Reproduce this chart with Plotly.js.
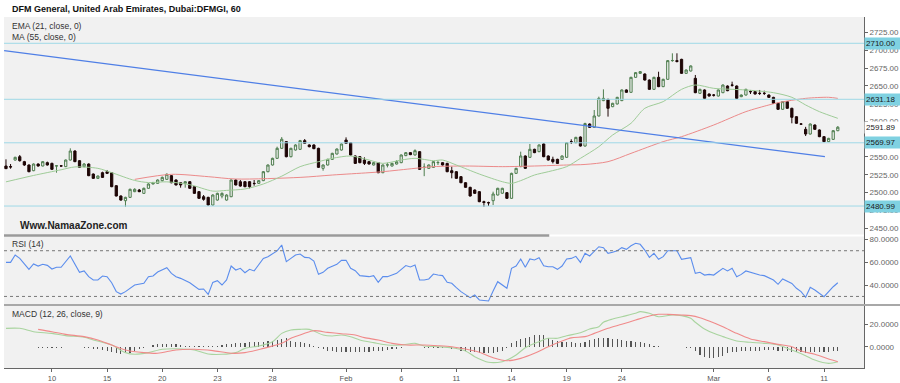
<!DOCTYPE html>
<html><head><meta charset="utf-8">
<script src="https://cdn.plot.ly/plotly-3.0.1.min.js"></script>
<style>html,body{margin:0;padding:0;background:#fff;}#chart{width:900px;height:383px;}</style>
</head><body><div id="chart"></div>
<script>
// ---- price bars (hourly, bar index 0..181) ----
const open = [
2537.3,2536.4,2545.7,2550.4,2543.4,2538.7,2530.7,2540.1,2537.3,2542.0,
2541.0,2537.3,2537.5,2536.4,2545.7,2558.4,2544.8,2536.4,2540.1,2526.0,
2519.9,2527.9,2529.3,2527.9,2509.6,2495.1,2488.5,2493.2,2501.2,2503.5,
2498.8,2505.9,2512.0,2512.9,2516.7,2518.5,2523.7,2517.6,2513.8,2512.9,
2515.2,2508.2,2501.2,2494.1,2493.2,2482.4,2489.4,2495.0,2489.4,2494.1,
2517.6,2515.2,2515.2,2515.2,2512.9,2512.9,2516.7,2529.3,2538.7,2548.1,
2562.2,2571.6,2550.4,2559.8,2560.8,2573.0,2566.9,2566.9,2562.2,2534.0,
2538.7,2546.7,2554.2,2559.8,2573.9,2570.1,2551.4,2550.4,2545.7,2543.4,
2538.7,2542.0,2527.9,2538.7,2537.3,2540.1,2542.0,2551.9,2556.1,2552.8,
2557.5,2535.4,2534.0,2535.4,2542.0,2542.0,2541.0,2530.7,2529.3,2522.3,
2513.8,2507.3,2503.5,2501.2,2487.1,2485.7,2488.5,2496.5,2499.0,2499.8,
2491.8,2527.0,2536.4,2551.4,2549.5,2560.8,2557.5,2568.3,2551.4,2546.7,
2546.7,2546.7,2549.5,2571.6,2570.1,2578.1,2565.4,2596.4,2591.7,2607.7,
2629.3,2631.1,2620.8,2624.6,2629.3,2644.3,2641.0,2662.1,2667.7,2666.8,
2658.3,2645.2,2662.1,2649.0,2659.3,2685.6,2685.6,2687.4,2667.7,2671.0,
2660.7,2639.6,2644.3,2638.6,2637.2,2635.8,2640.5,2649.9,2651.3,2649.9,
2634.9,2637.2,2642.0,2642.0,2639.6,2639.6,2637.2,2633.9,2625.5,2617.1,
2627.9,2618.5,2606.7,2596.4,2588.9,2582.3,2595.0,2588.0,2578.6,2571.6,
2574.8,2587.0];
const high = [
2546.7,2540.1,2550.4,2552.8,2544.5,2539.5,2541.0,2541.0,2544.0,2543.5,
2542.0,2538.7,2538.5,2546.5,2562.2,2559.5,2545.5,2541.5,2541.0,2526.8,
2524.0,2529.3,2531.7,2528.5,2510.2,2496.0,2494.0,2505.5,2506.0,2505.0,
2507.0,2513.0,2515.0,2518.5,2522.5,2527.0,2524.5,2518.5,2514.5,2516.0,
2516.0,2509.0,2502.0,2496.5,2494.0,2497.5,2499.8,2500.2,2497.5,2518.5,
2518.5,2517.6,2516.0,2516.0,2517.6,2517.6,2530.2,2539.5,2549.0,2564.5,
2578.0,2572.5,2563.0,2567.8,2574.0,2575.3,2567.8,2567.8,2563.0,2539.5,
2547.5,2556.0,2562.0,2569.0,2577.6,2571.0,2552.2,2551.2,2549.5,2544.2,
2542.8,2542.8,2539.5,2542.0,2541.8,2545.5,2553.6,2556.9,2556.9,2560.8,
2558.3,2541.0,2539.5,2544.2,2544.8,2542.8,2541.8,2536.4,2530.1,2523.1,
2514.6,2508.1,2504.3,2502.0,2488.5,2487.1,2501.2,2506.7,2506.7,2500.6,
2527.8,2534.8,2557.5,2552.2,2568.3,2561.6,2567.7,2569.1,2552.2,2550.4,
2547.5,2552.2,2570.9,2574.9,2578.4,2578.9,2598.2,2597.2,2616.1,2634.9,
2645.2,2631.9,2626.3,2634.7,2645.1,2645.1,2662.9,2669.5,2670.9,2667.6,
2659.1,2662.9,2670.0,2660.1,2686.4,2695.9,2695.9,2688.2,2673.2,2678.9,
2665.4,2646.0,2645.1,2639.4,2638.6,2645.1,2652.1,2650.7,2656.0,2650.7,
2638.0,2646.0,2644.3,2642.8,2644.3,2643.3,2638.0,2634.7,2626.3,2628.7,
2628.7,2619.3,2607.5,2597.8,2592.4,2597.2,2595.8,2588.8,2579.4,2577.0,
2587.8,2593.5];
const low = [
2533.0,2533.5,2544.8,2543.5,2537.5,2528.5,2530.0,2536.5,2536.8,2538.0,
2531.6,2527.9,2536.3,2535.8,2545.0,2542.8,2534.5,2535.5,2523.0,2519.0,
2519.0,2520.5,2526.0,2507.5,2494.5,2488.5,2480.0,2492.5,2500.5,2500.5,
2498.0,2505.5,2511.5,2512.5,2515.5,2518.0,2513.0,2510.0,2506.8,2506.8,
2505.0,2498.0,2491.0,2488.5,2481.5,2481.5,2488.5,2491.8,2488.5,2493.5,
2510.0,2508.2,2507.5,2505.9,2509.6,2512.0,2516.0,2528.5,2538.0,2547.5,
2561.5,2549.5,2549.5,2559.0,2560.0,2568.5,2563.5,2561.0,2534.5,2530.7,
2538.0,2546.0,2553.5,2559.0,2568.5,2552.0,2540.2,2541.2,2538.7,2539.4,
2538.0,2527.2,2527.2,2535.4,2536.6,2539.4,2541.3,2551.2,2552.6,2552.1,
2531.9,2523.0,2533.3,2534.7,2538.7,2538.0,2528.6,2520.0,2519.2,2513.1,
2506.6,2494.4,2498.1,2486.4,2480.0,2481.0,2482.4,2495.8,2498.3,2491.1,
2491.1,2526.3,2535.7,2533.3,2548.8,2555.4,2556.8,2549.7,2545.0,2540.9,
2540.3,2546.0,2548.8,2568.3,2569.4,2564.7,2564.7,2591.0,2591.0,2607.0,
2628.6,2606.8,2620.1,2623.9,2628.6,2640.3,2640.3,2661.4,2667.0,2657.6,
2644.5,2644.5,2648.3,2648.3,2658.6,2684.0,2683.0,2667.0,2667.0,2670.3,
2639.8,2638.9,2631.8,2635.1,2635.0,2635.1,2639.8,2642.6,2649.0,2631.8,
2634.2,2636.5,2638.6,2637.9,2637.2,2637.2,2633.2,2624.8,2616.4,2616.4,
2617.8,2597.4,2596.7,2595.0,2579.5,2581.6,2588.2,2577.9,2570.9,2570.9,
2574.1,2586.3];
const close = [
2533.6,2536.0,2549.5,2544.8,2538.7,2529.3,2540.1,2537.3,2543.4,2538.7,
2532.6,2537.6,2537.3,2545.7,2558.4,2543.4,2535.4,2540.1,2523.7,2519.9,
2523.2,2521.3,2527.0,2508.2,2495.1,2489.4,2493.2,2504.5,2504.5,2501.2,
2505.9,2512.0,2513.9,2517.6,2521.3,2525.6,2513.8,2510.6,2510.6,2515.2,
2505.9,2498.8,2491.8,2490.4,2482.4,2496.5,2498.8,2498.8,2496.5,2517.6,
2510.6,2509.1,2508.2,2508.2,2512.6,2516.7,2529.3,2538.7,2548.1,2562.2,
2575.0,2550.4,2562.2,2566.9,2573.0,2569.2,2564.5,2561.7,2535.4,2538.7,
2546.7,2555.1,2561.2,2568.3,2569.2,2552.8,2541.0,2542.0,2541.0,2540.1,
2542.0,2527.9,2538.7,2538.9,2541.0,2543.4,2552.8,2556.1,2553.3,2558.9,
2532.6,2535.6,2538.7,2543.4,2542.2,2538.7,2529.3,2527.9,2519.9,2513.8,
2507.3,2495.1,2498.8,2487.1,2486.0,2485.6,2497.9,2505.9,2505.9,2491.8,
2527.0,2534.0,2551.4,2534.0,2560.8,2556.1,2566.9,2550.4,2545.7,2543.4,
2541.0,2551.4,2570.1,2571.5,2577.6,2565.4,2597.0,2591.7,2607.7,2632.5,
2632.5,2618.5,2625.5,2633.9,2644.3,2641.0,2662.1,2668.7,2670.1,2658.3,
2645.2,2662.1,2649.0,2659.3,2685.6,2685.8,2684.5,2667.7,2672.4,2678.1,
2640.5,2645.2,2632.5,2635.8,2637.0,2644.3,2651.3,2643.3,2651.0,2632.5,
2637.2,2645.2,2641.9,2638.6,2639.4,2639.5,2633.9,2625.5,2617.1,2627.9,
2618.5,2605.8,2597.4,2596.3,2582.3,2596.4,2588.9,2578.6,2571.6,2576.2,
2587.0,2591.89];

// ---- x axis labels (bar index where each label sits) ----
const tickBars = [10,22,34,46,58,74,86,98,110,122,134,154,166,178];
const tickLabels = ['10','15','20','23','28','Feb','6','11','14','19','24','Mar','6','11'];

// ---- overlays ----
const emaX = [0,6,12,15,20,23,28,31,35,40,45,48,52,56,60,64,68,71,75,79,82,86,89,93,95,98,103,108,110,112,115,118,122,125,129,132,136,139,143,147,150,154,158,161,167,171,174,177,181];
const emaY = [2515,2524,2532,2536,2534,2528,2517,2514,2515,2511,2502,2503,2505,2512,2523,2536.4,2543.4,2548.1,2551.4,2545.7,2541.0,2545.7,2548.1,2544.8,2545.7,2538.7,2526.0,2515.2,2512.9,2516.7,2524.6,2529.3,2536.4,2548.1,2564.5,2580.9,2597.4,2618.5,2627.9,2645.2,2651.3,2646.6,2645.2,2644.3,2640.5,2634.0,2623.2,2613.8,2604.4];
const maX = [28,36,44,50,64,71,79,82,89,93,100,108,115,122,126,131,136,143,147,154,161,166,168,174,179,181];
const maY = [2518.5,2525.6,2522.3,2519.0,2521.3,2524.6,2527.9,2529.3,2534.0,2536.4,2537.3,2536.4,2537.3,2538.7,2539.5,2543.4,2555.1,2571.6,2578.6,2595.0,2613.8,2623.2,2626.4,2632.5,2634.0,2632.5];
const trendX = [-0.4, 178.2];
const trendY = [2699.8, 2550.4];
const levels = [2710.00, 2631.18, 2569.97, 2480.99];

// ---- RSI (14) ----
const rsiX = [0,1,2,3,5,6,7,8,9,10, 11,12,14,15,16,17,18,19,20,21, 22,23,24,25,26,28,29,30,31,32, 33,35,36,37,38,40,42,43,44,45,
 46,47,48,49,50,51,52,53,54,56, 57,59,60,61,62,63,64,65,66,67, 68,69,70,72,73,74,75,76,77,78, 79,80,81,82,83,85,87,88,89,90,
 91,92,93,94,95,96,97,98,99,101, 102,103,105,106,107,109,110,111,112,113, 114,115,116,117,118,119,120,121,122,123,
 124,125,126,127,128,129,130,131,132,133, 134,135,136,137,138,139,140,141,142,143, 144,146,147,148,149,150,151,152,153,154,
 155,156,157,158,159,160,161,162,163,164, 165,167,168,169,171,172,173,174,175,176, 178,179,180,181];
const rsiY = [59.8,59.8,66.3,63.3,53.7,58.4,56.6,58.1,57.2,54.0, 55.5,55.5,65.4,58.4,51.1,52.3,47.3,44.4,44.4,47.9,
 47.3,42.0,34.2,32.1,34.2,40.0,40.6,41.5,47.3,47.9, 51.4,55.2,50.2,47.3,45.8,42.0,36.2,36.5,31.8,42.3,
 43.8,40.0,44.4,56.6,53.1,54.6,50.8,53.7,52.3,63.3, 64.8,69.8,75.0,60.4,63.3,66.3,67.1,64.2,63.9,61.0,
 49.3,51.1,54.6,58.1,61.6,61.6,54.6,52.5,48.2,47.9, 47.3,48.2,42.3,47.3,47.3,50.2,57.0,55.8,57.5,44.4,
 44.4,45.3,49.6,48.7,48.2,42.3,41.5,37.7,34.2,28.9, 31.2,26.9,26.0,34.7,42.9,37.1,54.6,56.6,62.8,55.5,
 62.8,61.9,63.9,56.9,56.0,56.0,53.7,56.6,62.8,63.3, 65.1,59.8,67.7,65.4,69.2,73.5,72.7,67.7,68.6,70.0,
 72.7,71.2,74.4,76.5,75.6,70.6,64.2,67.7,62.5,64.8, 70.0,70.0,62.5,63.3,63.9,50.2,51.1,48.7,49.3,48.7,
 51.7,54.6,52.3,54.6,47.3,49.3,52.3,51.1,49.6,48.7, 48.2,44.4,40.6,45.3,41.4,37.1,34.2,29.2,37.9,35.6,
 29.8,34.2,38.5,42.0];
const rsiLevels = [70, 30];

// ---- MACD (12, 26, close, 9) ----
const macdX = [0,3,6,10,13,17,19,23,26,28, 31,34,37,41,44,47,50,52,55,58, 60,62,64,66,67,69,71,73,75,77, 80,83,86,89,91,94,97,100,102,105,
 108,109,111,113,116,118,120,122,125,127, 129,130,132,134,137,138,140,142,145,147, 149,150,152,154,156,159,162,165,168,171, 174,176,179,181];
const macdY = [16.4,16.4,13.4,11.9,9.9,8.4,6.0,1.5,-5.3,-6.8, -5.3,-2.3,-1.8,-3.0,-6.5,-6.8,-5.3,-1.5,0.6,4.5,
 11.9,14.9,15.5,15.5,14.0,10.4,9.6,10.4,8.9,6.0, 3.6,1.5,1.5,3.0,0.6,0.0,-0.9,-3.8,-8.9,-13.9,
 -13.4,-11.9,-7.4,-0.9,4.5,7.5,7.5,9.8,12.4,15.8, 17.9,21.8,24.7,26.8,29.8,31.3,29.8,26.8,28.3,27.7,
 25.3,21.8,15.8,11.9,9.0,5.1,3.9,3.0,1.5,-3.0, -8.0,-11.9,-14.9,-13.4];
const sigX = [7,10,13,17,20,23,26,30,33,37, 41,45,49,52,56,60,62,64,65,67, 70,73,76,78,81,84,87,91,94,97,
 100,103,106,109,112,115,118,121,123,126, 128,131,134,137,140,142,144,147,149,151, 153,156,159,162,165,168,171,173,176,179, 181];
const sigY = [15.5,13.4,11.0,9.0,6.0,1.5,-2.9,-5.3,-5.9,-2.9, -2.3,-3.5,-5.9,-5.3,-1.5,3.0,7.5,10.5,12.0,14.3,
 12.8,11.6,10.4,8.1,6.0,3.0,1.5,1.5,0.9,0.0, -2.1,-5.0,-9.8,-12.5,-10.4,-5.9,0.0,5.1,7.9,9.0,
 11.9,16.4,20.0,23.8,27.4,28.9,28.9,28.3,27.7,25.9, 23.0,17.9,11.9,6.9,4.5,2.1,0.0,-3.8,-6.8,-11.0, -13.4];
const histStart = 7;
const histY = [-1.0,-1.2,-1.3,-1.3,-1.4,-1.5, -0.3,-0.2,-0.3,-0.5,-0.8, -1.5,-2.0,-2.5,-3.0,
 -4.0,-5.0,-6.0,-6.5,-6.0,-5.5,-4.0, -2.0,-1.0,-0.5, 1.5,2.0,2.5,2.5,2.0,2.0,1.5,
 0.5,0.3,0.2,0.2,0.3,0.3,0.5, 1.0,1.5,2.0, 2.5,3.0,3.5,3.5,4.0,4.0,4.5,4.5, 5.0,5.5,6.0,7.0,7.5,
 5.0,4.5,4.0,3.0,2.0,0.5,-1.0,
 -2.5,-3.5,-4.0,-4.5,-4.5,-4.5,-5.0,-5.0,-5.0,-4.5,-4.5,-4.0,-4.0,-3.5,-3.0,-2.5,-2.0,
 -1.0,-0.5,-0.3,-0.3,-0.5,-0.8,-0.8,-0.8,-1.0,-1.0,-1.5,-2.0,-2.5,
 -3.5,-4.0,-4.5,-5.0,-5.5,-6.0,-6.0,-5.5,-5.0,-3.5,
 -1.0,3.0,5.0,7.0,8.0,9.0,10.0,10.5,10.0,8.0,6.0,5.0,4.5,4.0,4.0,3.5,
 3.0,4.0,6.0,7.0,8.0,8.0,7.5,7.0,6.5,6.0,5.5,5.0,4.5,4.0,3.0,2.0,1.0,0.5,-0.5,-0.5,-0.5,-0.5,-0.5,-1.0,-1.5,
 -4.0,-7.0,-9.0,-10.0,-10.0,-9.5,-8.0,-6.0,-5.0,-4.5,-4.0,-4.0,-3.5,-3.5,-3.5,-3.0,-3.0,-3.0,-3.5,-4.0,-4.0,-4.5,-5.0,-5.0,-5.5,-5.0,-5.0,-5.0,-5.0,-4.5,-4.0,-3.5];

// ---- build ----
const barIdx = close.map((_, i) => i);
const histX = histY.map((_, k) => histStart + k);
const FONT = 'Liberation Sans, Arial, sans-serif';
const BG = '#f1f1f1';

const traces = [
  {type:'candlestick', x:barIdx, open, high, low, close, xaxis:'x', yaxis:'y',
   increasing:{line:{color:'#4e7d4e', width:1}, fillcolor:BG},
   decreasing:{line:{color:'#1e0606', width:1}, fillcolor:'#1e0606'},
   whiskerwidth:0, hoverinfo:'skip'},
  {type:'scatter', mode:'lines', x:maX, y:maY, yaxis:'y', line:{color:'#ec8a8a', width:1, shape:'spline', smoothing:0.8}},
  {type:'scatter', mode:'lines', x:emaX, y:emaY, yaxis:'y', line:{color:'#9fcc98', width:1, shape:'spline', smoothing:0.8}},
  {type:'scatter', mode:'lines', x:trendX, y:trendY, yaxis:'y', line:{color:'#4f7fe6', width:1.2}},
  {type:'scatter', mode:'lines', x:rsiX, y:rsiY, yaxis:'y2', line:{color:'#5b8ded', width:1.1}},
  {type:'bar', x:histX, y:histY, yaxis:'y3', width:0.25, marker:{color:'#555', line:{width:0}}},
  {type:'scatter', mode:'lines', x:macdX, y:macdY, yaxis:'y3', line:{color:'#a9d49f', width:1.1, shape:'spline', smoothing:0.8}},
  {type:'scatter', mode:'lines', x:sigX, y:sigY, yaxis:'y3', line:{color:'#f08a8a', width:1.1, shape:'spline', smoothing:0.8}}
];

const axCommon = {side:'right', anchor:'x', showgrid:false, zeroline:false, showline:true, linecolor:'#666', linewidth:1,
  ticks:'outside', ticklen:3, tickcolor:'#666', tickfont:{family:FONT, size:8, color:'#666'}, fixedrange:true};

const shapes = [];
levels.forEach(l => shapes.push({type:'line', xref:'paper', x0:0, x1:1, yref:'y', y0:l, y1:l, line:{color:'#9fd9e7', width:1}}));
rsiLevels.forEach(l => shapes.push({type:'line', xref:'paper', x0:0, x1:1, yref:'y2', y0:l, y1:l, line:{color:'#777', width:1, dash:'dot'}}));
shapes.push({type:'line', xref:'paper', x0:0, x1:1, yref:'paper', y0:0.3775, y1:0.3775, line:{color:'#ffffff', width:2}});
shapes.push({type:'line', xref:'paper', x0:0, x1:0.634, yref:'paper', y0:0.3775, y1:0.3775, line:{color:'#9a9a9a', width:2.5}});
shapes.push({type:'line', xref:'paper', x0:0, x1:1.045, yref:'paper', y0:0.1795, y1:0.1795, line:{color:'#a8a8a8', width:2}});

const annotations = [
  {text:'<b>DFM General, United Arab Emirates, Dubai:DFMGI, 60</b>', xref:'paper', yref:'paper', x:0.007, y:1.0214, xanchor:'left', yanchor:'middle', showarrow:false, font:{family:FONT, size:9, color:'#111'}},
  {text:'EMA (21, close, 0)', xref:'paper', yref:'paper', x:0.007, y:0.9744, xanchor:'left', yanchor:'middle', showarrow:false, font:{family:FONT, size:8.5, color:'#333'}},
  {text:'MA (55, close, 0)', xref:'paper', yref:'paper', x:0.007, y:0.943, xanchor:'left', yanchor:'middle', showarrow:false, font:{family:FONT, size:8.5, color:'#333'}},
  {text:'<b>Www.NamaaZone.com</b>', xref:'paper', yref:'paper', x:0.0163, y:0.4074, xanchor:'left', yanchor:'middle', showarrow:false, font:{family:FONT, size:10, color:'#222'}},
  {text:'RSI (14)', xref:'paper', yref:'paper', x:0.007, y:0.3533, xanchor:'left', yanchor:'middle', showarrow:false, font:{family:FONT, size:8.5, color:'#333'}},
  {text:'MACD (12, 26, close, 9)', xref:'paper', yref:'paper', x:0.007, y:0.1538, xanchor:'left', yanchor:'middle', showarrow:false, font:{family:FONT, size:8.5, color:'#333'}}
];
levels.forEach(l => annotations.push({text:l.toFixed(2), xref:'paper', yref:'y', x:1, y:l, xanchor:'left', yanchor:'middle', showarrow:false,
  bgcolor:'#7fd1e1', borderpad:1, width:33, align:'left', font:{family:FONT, size:8, color:'#1a1a1a'}}));
const lastClose = close[close.length - 1];
annotations.push({text:lastClose.toFixed(2), xref:'paper', yref:'y', x:1, y:lastClose, xanchor:'left', yanchor:'middle', showarrow:false,
  bgcolor:'#ffffff', borderpad:1, width:33, align:'left', font:{family:FONT, size:8, color:'#1a1a1a'}});

const layout = {
  width:900, height:383, margin:{l:4, r:36, t:17, b:15},
  paper_bgcolor:'#ffffff', plot_bgcolor:BG, showlegend:false, bargap:0,
  xaxis:{range:[-0.43, 186.7], anchor:'y3', tickmode:'array', tickvals:tickBars, ticktext:tickLabels,
    ticks:'outside', ticklen:3, tickcolor:'#666', tickfont:{family:FONT, size:7.5, color:'#555'},
    showline:true, linecolor:'#666', linewidth:1, showgrid:false, zeroline:false, rangeslider:{visible:false}, fixedrange:true},
  yaxis:Object.assign({}, axCommon, {domain:[0.3789, 1], range:[2440.2, 2747.0], tickmode:'array',
    tickvals:[2450,2475,2500,2525,2550,2575,2600,2625,2650,2675,2700,2725], tickformat:'.2f'}),
  yaxis2:Object.assign({}, axCommon, {domain:[0.1795, 0.3789], range:[22.5, 83.76], tickmode:'array', tickvals:[40,60,80], tickformat:'.4f'}),
  yaxis3:Object.assign({}, axCommon, {domain:[0, 0.1795], range:[-19.02, 37.23], tickmode:'array', tickvals:[0,20], tickformat:'.4f'}),
  shapes, annotations
};

Plotly.newPlot('chart', traces, layout, {staticPlot:true, displayModeBar:false});
</script></body></html>
